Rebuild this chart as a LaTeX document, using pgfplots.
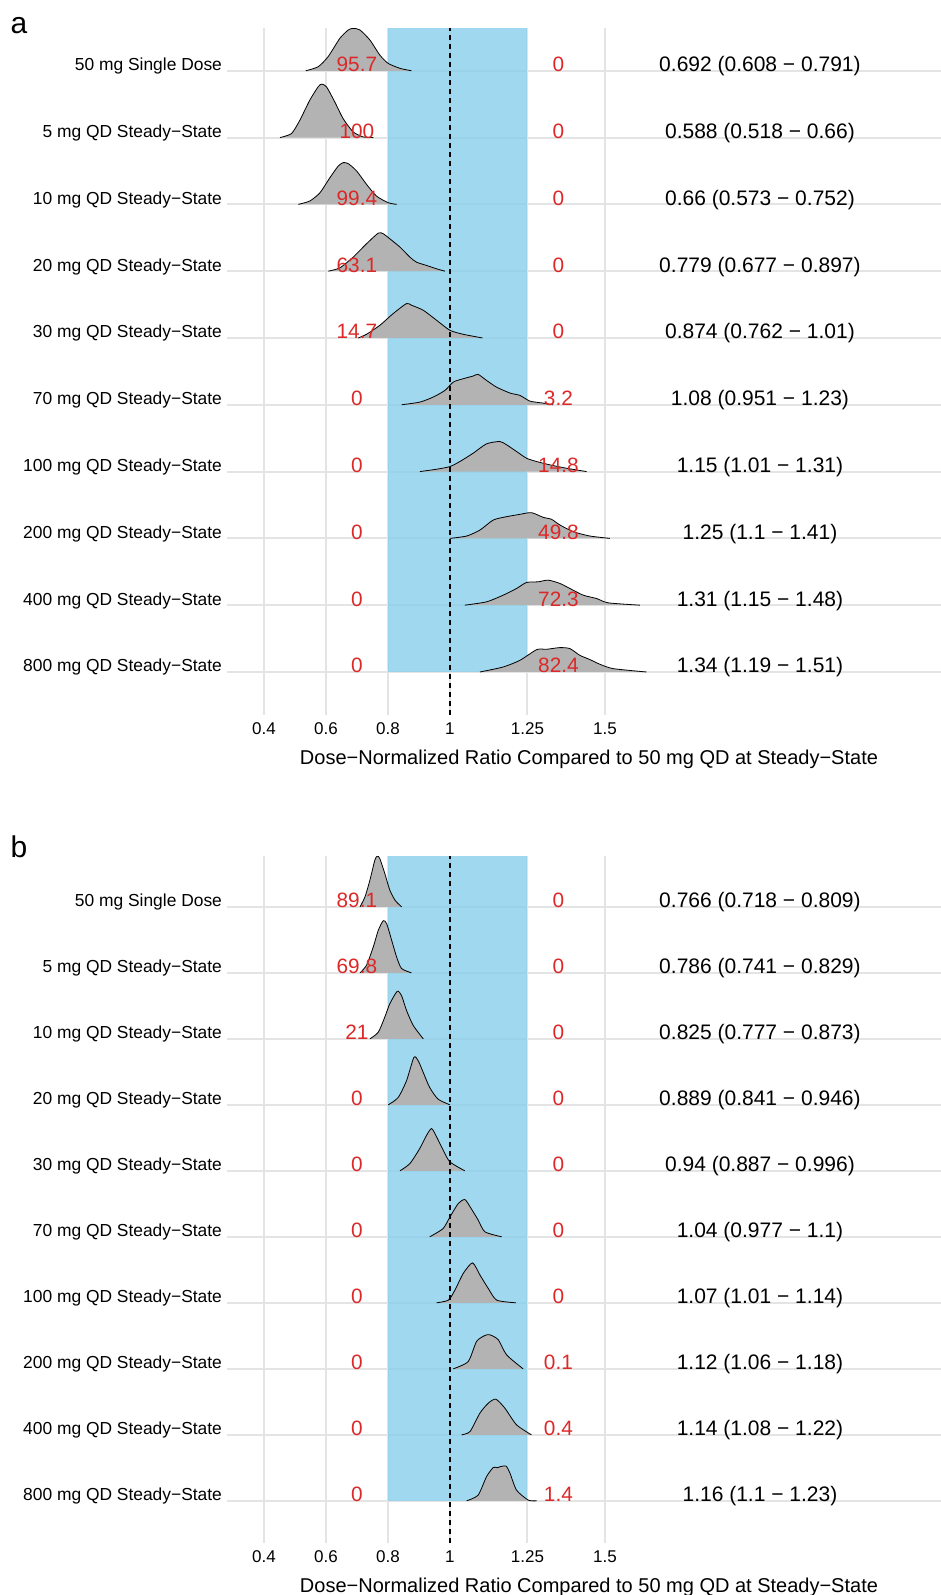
\documentclass[border=0pt]{standalone}
\usepackage{fontspec}
\setmainfont{Liberation Sans}
\usepackage{pgfplots}
\pgfplotsset{compat=1.18}

\definecolor{gridgray}{RGB}{228,228,228}
\definecolor{bandblue}{RGB}{135,206,235}
\definecolor{ridgegray}{RGB}{179,179,179}
\definecolor{redtxt}{RGB}{220,40,40}

% one ridge: filled area without outline along the baseline, then the top curve
\newcommand{\ridge}[1]{%
  \addplot[fill=ridgegray, draw=none, smooth, tension=0.4] coordinates {#1} -- cycle;
  \addplot[black, line width=0.4pt, smooth, tension=0.4] coordinates {#1};
}

\pgfplotsset{
  ridgeaxis/.style={
    scale only axis,
    width=357pt, height=343.5pt,
    xmin=0.281, xmax=2.584,
    xtick={0.4,0.6,0.8,1,1.25,1.5},
    xticklabels={0.4,0.6,0.8,1,1.25,1.5},
    ytick={1,...,10},
    yticklabels={800 mg QD Steady−State,400 mg QD Steady−State,200 mg QD Steady−State,
      100 mg QD Steady−State,70 mg QD Steady−State,30 mg QD Steady−State,
      20 mg QD Steady−State,10 mg QD Steady−State,5 mg QD Steady−State,50 mg Single Dose},
    /pgf/number format/assume math mode=true,
    axis line style={draw=none},
    tick style={draw=none},
    major tick length=0pt,
    grid=major,
    major grid style={draw=gridgray, line width=1pt},
    yticklabel style={anchor=base east, xshift=1pt, font=\fontsize{8.7}{10}\selectfont},
    xticklabel style={anchor=base, yshift=-9.5pt, font=\fontsize{8.5}{10}\selectfont},
    xlabel={Dose−Normalized Ratio Compared to 50 mg QD at Steady−State},
    xlabel style={at={(axis description cs:0.5,0)}, anchor=base, yshift=-24.5pt,
      xshift=2.5pt, font=\fontsize{10}{12}\selectfont},
  },
}
\tikzset{
  redlab/.style={anchor=base, yshift=-0.5pt, inner sep=0pt, text=redtxt,
    font=\fontsize{10.4}{12}\selectfont},
  cilab/.style={anchor=base, yshift=-0.5pt, inner sep=0pt,
    font=\fontsize{10.5}{12}\selectfont},
}

\begin{document}
\begin{tikzpicture}
\useasboundingbox (0,0) rectangle (470.5pt,-797.5pt);
\node[anchor=base, font=\fontsize{15}{18}\selectfont] at (9.5pt,-16.75pt) {a};
\node[anchor=base, font=\fontsize{15}{18}\selectfont] at (9.5pt,-428.5pt) {b};

% ---------------- panel a ----------------
\begin{axis}[ridgeaxis, at={(113.5pt,-357.5pt)}, anchor=south west,
    ymin=0.356, ymax=10.64]
  \addplot[fill=bandblue, fill opacity=0.8, draw=none]
    coordinates {(0.8,1) (1.25,1) (1.25,10.64) (0.8,10.64)} -- cycle;

  \ridge{(0.535,10) (0.575,10.06) (0.607,10.21) (0.645,10.485) (0.672,10.61) (0.688,10.635) (0.710,10.61) (0.742,10.46) (0.774,10.235) (0.801,10.11) (0.839,10.036) (0.876,10)}
  \ridge{(0.452,9) (0.489,9.06) (0.516,9.26) (0.548,9.56) (0.575,9.76) (0.586,9.80) (0.602,9.76) (0.629,9.53) (0.656,9.28) (0.688,9.085) (0.720,9.01) (0.753,9)}
  \ridge{(0.511,8) (0.548,8.05) (0.581,8.175) (0.613,8.40) (0.640,8.575) (0.656,8.625) (0.672,8.61) (0.699,8.50) (0.731,8.30) (0.763,8.125) (0.801,8.025) (0.828,8)}
  \ridge{(0.608,7) (0.645,7.05) (0.688,7.21) (0.731,7.41) (0.769,7.57) (0.785,7.56) (0.806,7.485) (0.839,7.36) (0.871,7.21) (0.892,7.135) (0.925,7.085) (0.957,7.035) (0.984,7)}
  \ridge{(0.704,6) (0.731,6.055) (0.774,6.19) (0.817,6.365) (0.860,6.515) (0.876,6.49) (0.914,6.415) (0.957,6.265) (1.0,6.115) (1.043,6.055) (1.105,6)}
  \ridge{(0.844,5) (0.903,5.04) (0.946,5.115) (0.984,5.215) (1.011,5.34) (1.043,5.39) (1.075,5.43) (1.091,5.455) (1.118,5.365) (1.150,5.265) (1.194,5.175) (1.226,5.14) (1.258,5.055) (1.301,5.025) (1.333,5)}
  \ridge{(0.903,4) (0.957,4.035) (1.0,4.075) (1.032,4.15) (1.075,4.275) (1.118,4.415) (1.161,4.45) (1.183,4.40) (1.215,4.30) (1.247,4.20) (1.280,4.15) (1.323,4.10) (1.376,4.05) (1.441,4)}
  \ridge{(1.0,3) (1.054,3.035) (1.097,3.125) (1.140,3.275) (1.183,3.325) (1.226,3.36) (1.263,3.385) (1.301,3.315) (1.328,3.285) (1.355,3.20) (1.398,3.10) (1.452,3.035) (1.516,3)}
  \ridge{(1.048,2) (1.118,2.05) (1.172,2.15) (1.215,2.25) (1.247,2.34) (1.285,2.35) (1.317,2.375) (1.355,2.325) (1.387,2.25) (1.430,2.15) (1.473,2.10) (1.511,2.035) (1.613,2)}
  \ridge{(1.097,1) (1.172,1.075) (1.226,1.175) (1.280,1.335) (1.312,1.34) (1.355,1.365) (1.387,1.35) (1.419,1.25) (1.452,1.185) (1.484,1.115) (1.527,1.05) (1.634,1)}

  \addplot[black, line width=0.6pt, dash pattern=on 2.5pt off 2pt]
    coordinates {(1,0.356) (1,10.64)};

  % percent below / above
  \node[redlab] at (axis cs:0.7,10) {95.7};
  \node[redlab] at (axis cs:0.7,9) {100};
  \node[redlab] at (axis cs:0.7,8) {99.4};
  \node[redlab] at (axis cs:0.7,7) {63.1};
  \node[redlab] at (axis cs:0.7,6) {14.7};
  \node[redlab] at (axis cs:0.7,5) {0};
  \node[redlab] at (axis cs:0.7,4) {0};
  \node[redlab] at (axis cs:0.7,3) {0};
  \node[redlab] at (axis cs:0.7,2) {0};
  \node[redlab] at (axis cs:0.7,1) {0};
  \node[redlab] at (axis cs:1.35,10) {0};
  \node[redlab] at (axis cs:1.35,9) {0};
  \node[redlab] at (axis cs:1.35,8) {0};
  \node[redlab] at (axis cs:1.35,7) {0};
  \node[redlab] at (axis cs:1.35,6) {0};
  \node[redlab] at (axis cs:1.35,5) {3.2};
  \node[redlab] at (axis cs:1.35,4) {14.8};
  \node[redlab] at (axis cs:1.35,3) {49.8};
  \node[redlab] at (axis cs:1.35,2) {72.3};
  \node[redlab] at (axis cs:1.35,1) {82.4};

  \node[cilab] at (axis cs:2,10) {0.692 (0.608 − 0.791)};
  \node[cilab] at (axis cs:2,9) {0.588 (0.518 − 0.66)};
  \node[cilab] at (axis cs:2,8) {0.66 (0.573 − 0.752)};
  \node[cilab] at (axis cs:2,7) {0.779 (0.677 − 0.897)};
  \node[cilab] at (axis cs:2,6) {0.874 (0.762 − 1.01)};
  \node[cilab] at (axis cs:2,5) {1.08 (0.951 − 1.23)};
  \node[cilab] at (axis cs:2,4) {1.15 (1.01 − 1.31)};
  \node[cilab] at (axis cs:2,3) {1.25 (1.1 − 1.41)};
  \node[cilab] at (axis cs:2,2) {1.31 (1.15 − 1.48)};
  \node[cilab] at (axis cs:2,1) {1.34 (1.19 − 1.51)};
\end{axis}

% ---------------- panel b ----------------
\begin{axis}[ridgeaxis, at={(113.5pt,-771.5pt)}, anchor=south west,
    ymin=0.36, ymax=10.77]
  \addplot[fill=bandblue, fill opacity=0.8, draw=none]
    coordinates {(0.8,1) (1.25,1) (1.25,10.77) (0.8,10.77)} -- cycle;

  \ridge{(0.710,10) (0.726,10.15) (0.742,10.405) (0.758,10.71) (0.766,10.77) (0.774,10.73) (0.790,10.505) (0.806,10.255) (0.823,10.10) (0.844,10)}
  \ridge{(0.710,9) (0.731,9.115) (0.753,9.395) (0.769,9.645) (0.785,9.79) (0.796,9.745) (0.812,9.495) (0.828,9.24) (0.844,9.065) (0.876,9)}
  \ridge{(0.742,8) (0.769,8.10) (0.790,8.33) (0.806,8.53) (0.830,8.72) (0.844,8.655) (0.860,8.43) (0.882,8.20) (0.914,8)}
  \ridge{(0.801,7) (0.833,7.11) (0.860,7.365) (0.884,7.72) (0.898,7.665) (0.914,7.49) (0.935,7.26) (0.962,7.085) (1.0,7)}
  \ridge{(0.839,6) (0.871,6.11) (0.903,6.34) (0.925,6.54) (0.941,6.64) (0.957,6.515) (0.978,6.315) (1.0,6.135) (1.048,6)}
  \ridge{(0.935,5) (0.978,5.125) (1.0,5.30) (1.027,5.505) (1.048,5.565) (1.065,5.455) (1.091,5.255) (1.113,5.075) (1.167,5)}
  \ridge{(0.957,4) (0.995,4.04) (1.016,4.19) (1.043,4.445) (1.073,4.605) (1.097,4.42) (1.124,4.215) (1.151,4.04) (1.213,4)}
  \ridge{(1.011,3) (1.059,3.11) (1.086,3.415) (1.113,3.505) (1.129,3.515) (1.156,3.44) (1.183,3.21) (1.236,3)}
  \ridge{(1.038,2) (1.065,2.05) (1.097,2.33) (1.124,2.48) (1.148,2.54) (1.177,2.405) (1.215,2.15) (1.263,2)}
  \ridge{(1.054,1) (1.091,1.085) (1.118,1.365) (1.140,1.505) (1.153,1.50) (1.161,1.515) (1.181,1.525) (1.194,1.415) (1.215,1.16) (1.253,1.01) (1.280,1)}

  \addplot[black, line width=0.6pt, dash pattern=on 2.5pt off 2pt]
    coordinates {(1,0.36) (1,10.77)};

  \node[redlab] at (axis cs:0.7,10) {89.1};
  \node[redlab] at (axis cs:0.7,9) {69.8};
  \node[redlab] at (axis cs:0.7,8) {21};
  \node[redlab] at (axis cs:0.7,7) {0};
  \node[redlab] at (axis cs:0.7,6) {0};
  \node[redlab] at (axis cs:0.7,5) {0};
  \node[redlab] at (axis cs:0.7,4) {0};
  \node[redlab] at (axis cs:0.7,3) {0};
  \node[redlab] at (axis cs:0.7,2) {0};
  \node[redlab] at (axis cs:0.7,1) {0};
  \node[redlab] at (axis cs:1.35,10) {0};
  \node[redlab] at (axis cs:1.35,9) {0};
  \node[redlab] at (axis cs:1.35,8) {0};
  \node[redlab] at (axis cs:1.35,7) {0};
  \node[redlab] at (axis cs:1.35,6) {0};
  \node[redlab] at (axis cs:1.35,5) {0};
  \node[redlab] at (axis cs:1.35,4) {0};
  \node[redlab] at (axis cs:1.35,3) {0.1};
  \node[redlab] at (axis cs:1.35,2) {0.4};
  \node[redlab] at (axis cs:1.35,1) {1.4};

  \node[cilab] at (axis cs:2,10) {0.766 (0.718 − 0.809)};
  \node[cilab] at (axis cs:2,9) {0.786 (0.741 − 0.829)};
  \node[cilab] at (axis cs:2,8) {0.825 (0.777 − 0.873)};
  \node[cilab] at (axis cs:2,7) {0.889 (0.841 − 0.946)};
  \node[cilab] at (axis cs:2,6) {0.94 (0.887 − 0.996)};
  \node[cilab] at (axis cs:2,5) {1.04 (0.977 − 1.1)};
  \node[cilab] at (axis cs:2,4) {1.07 (1.01 − 1.14)};
  \node[cilab] at (axis cs:2,3) {1.12 (1.06 − 1.18)};
  \node[cilab] at (axis cs:2,2) {1.14 (1.08 − 1.22)};
  \node[cilab] at (axis cs:2,1) {1.16 (1.1 − 1.23)};
\end{axis}
\end{tikzpicture}
\end{document}
